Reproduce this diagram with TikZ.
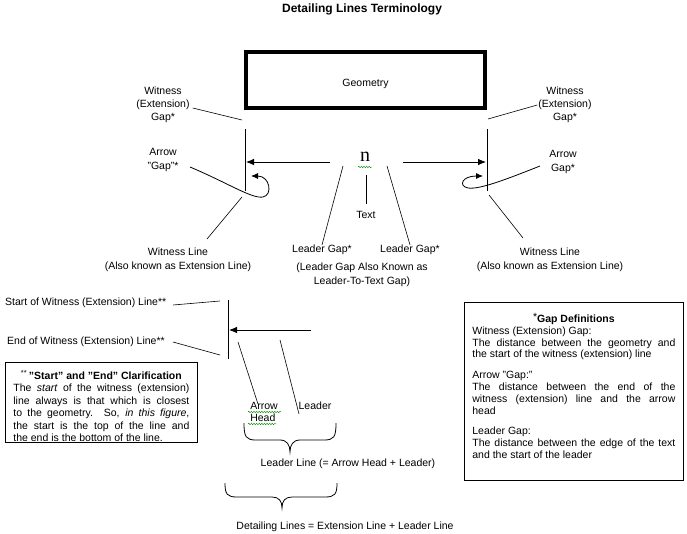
\documentclass[tikz,border=0pt]{standalone}
\usepackage{fontspec}
\setmainfont{Liberation Sans}
\newfontfamily\serifn{Liberation Serif}
\usetikzlibrary{positioning, arrows.meta, decorations.pathmorphing}
\definecolor{spellgreen}{RGB}{0, 140, 0}
\setlength{\parindent}{0pt}

\begin{document}
\begin{tikzpicture}[x=1pt, y=-1pt,
    lbl/.style={align=center, font=\fontsize{10.5}{14}\selectfont, inner sep=0pt},
    ptr/.style={line width=0.6pt},
    wline/.style={line width=0.9pt},
    dim/.style={-{Latex[length=8pt, width=6.5pt]}, line width=0.8pt},
    loopy/.style={-{Latex[length=7pt, width=6pt]}, line width=0.8pt},
    squig/.style={spellgreen, line width=0.4pt, decorate,
      decoration={snake, amplitude=0.8pt, segment length=2.6pt}},
    notebox/.style={draw, line width=0.8pt, align=justify, inner xsep=8pt,
      inner ysep=5pt, font=\fontsize{10.5}{12.2}\selectfont}]
    \useasboundingbox (0,0) rectangle (687,533);

    \node[font=\fontsize{12}{12}\selectfont\bfseries] (title) at (362,9)
         {Detailing Lines Terminology};

    % geometry and witness lines
    \node[draw, line width=4pt, minimum width=239pt, minimum height=56pt,
          font=\fontsize{10.5}{12}\selectfont, text height=12pt, text depth=0pt]
          (geom) at (365.5,80) {Geometry};

    \coordinate (wlLtop) at (245,129);
    \coordinate (wlLbot) at (245,191);
    \coordinate (wlRtop) at (487,129);
    \coordinate (wlRbot) at (487,191);
    \draw[wline] (wlLtop) -- (wlLbot);
    \draw[wline] (wlRtop) -- (wlRbot);

    % dimension text and arrows
    \node[inner sep=0pt, font=\fontsize{20}{20}\serifn] (dimtext) at (365,157) {n};
    \draw[squig] (358,167) -- (372,167);
    \coordinate (arrLs) at (330,162);
    \coordinate (arrLe) at (246,162);
    \coordinate (arrRs) at (403,162);
    \coordinate (arrRe) at (486,162);
    \draw[dim] (arrLs) -- (arrLe);
    \draw[dim] (arrRs) -- (arrRe);

    % labels round the geometry
    \node[lbl, font=\fontsize{10.5}{13}\selectfont] (wgapL) at (163,105)
         {Witness\\(Extension)\\Gap*};
    \node[lbl, font=\fontsize{10.5}{13}\selectfont] (wgapR) at (565,105)
         {Witness\\(Extension)\\Gap*};
    \node[lbl] (agapL) at (163,160) {Arrow\\"Gap"*};
    \node[lbl] (agapR) at (563,162) {Arrow\\Gap*};
    \node[lbl] (wlineL) at (178,260) {Witness Line\\(Also known as Extension Line)};
    \node[lbl] (wlineR) at (550,260) {Witness Line\\(Also known as Extension Line)};
    \node[lbl] (lgapL) at (322,250) {Leader Gap*};
    \node[lbl] (lgapR) at (410,250) {Leader Gap*};
    \node[lbl] (lgapnote) at (362,275) {(Leader Gap Also Known as\\Leader-To-Text Gap)};
    \node[lbl] (txt) at (366,215) {Text};

    \coordinate (wgL) at (242,120);
    \coordinate (wgR) at (488,119);
    \coordinate (wlL) at (242,197);
    \coordinate (wlR) at (489,195);
    \coordinate (lgL) at (343,166);
    \coordinate (lgR) at (387,166);
    \coordinate (txtp) at (366,175);
    \coordinate (agL) at (190,167);
    \coordinate (agR) at (540,166);

    \draw[ptr] ([xshift=3pt, yshift=-3pt]wgapL.east) -- (wgL);
    \draw[ptr] ([xshift=-1pt]wgapR.west) -- (wgR);
    \draw[ptr] (207,239) -- (wlL);
    \draw[ptr] (523,238) -- (wlR);
    \draw[ptr] (lgapL.north) -- (lgL);
    \draw[ptr] (lgapR.north) -- (lgR);
    \draw[ptr] (366,204) -- (txtp);

    \draw[loopy] (agL) .. controls (228,183) and (252,199) .. (263,197)
         .. controls (273,195) and (270,176) .. (251,176);
    \draw[loopy] (agR) .. controls (512,177) and (480,190) .. (468,188)
         .. controls (458,186) and (462,176) .. (483,176);

    % start and end of the witness line
    \node[lbl, anchor=west] (startlbl) at (5,303) {Start of Witness (Extension) Line**};
    \node[lbl, anchor=west] (endlbl) at (7,342) {End of Witness (Extension) Line**};
    \coordinate (swTop) at (228,300);
    \coordinate (swBot) at (228,359);
    \draw[wline] (swTop) -- (swBot);
    \draw[ptr] (173,305) -- (220,301);
    \draw[ptr] (173,342) -- (220,355);
    \coordinate (ldS) at (311,330);
    \coordinate (ldE) at (229,330);
    \draw[dim] (ldS) -- (ldE);

    \node[lbl, align=left, font=\fontsize{10.5}{12}\selectfont] (ahead) at (264,412)
         {Arrow\\Head};
    \draw[squig] (248,412) -- (281,412);
    \draw[squig] (248,424) -- (276,424);
    \node[lbl] (leader) at (315,406) {Leader};
    \coordinate (ahp) at (238,342);
    \coordinate (ldp) at (280,340);
    \draw[ptr] (ahp) -- ([xshift=-6pt, yshift=-2pt]ahead.north);
    \draw[ptr] (ldp) -- ([xshift=-16pt, yshift=-12pt]leader.north);

    % braces
    \draw[line width=0.8pt] (244,423) .. controls (244,437) and (246,440) .. (256,440)
         -- (280,440) .. controls (287,440) and (290,445) .. (290,452)
         .. controls (290,445) and (293,440) .. (300,440)
         -- (324,440) .. controls (334,440) and (336,437) .. (336,423);
    \node[lbl] (leaderline) at (348,464) {Leader Line (= Arrow Head + Leader)};

    \draw[line width=0.8pt] (225,483) .. controls (225,494) and (227,497) .. (237,497)
         -- (272,497) .. controls (279,497) and (282,501) .. (282,508)
         .. controls (282,501) and (285,497) .. (292,497)
         -- (325,497) .. controls (335,497) and (337,494) .. (337,483);
    \node[lbl] (detailing) at (345,527) {Detailing Lines = Extension Line + Leader Line};

    % note boxes
    \node[notebox, anchor=north west, text width=176pt, inner ysep=4pt,
          text height=13pt, text depth=59pt, font=\fontsize{10.5}{12.4}\selectfont]
          (clarify) at (5,362)
         {{\centering{\normalfont\textsuperscript{**}}\,\textbf{"Start" and "End" Clarification}\par}
          The \textit{start} of the witness (extension)\linebreak
          line always is that which is closest\linebreak
          to the geometry. So, \textit{in this figure},\linebreak
          the start is the top of the line and\linebreak
          the end is the bottom of the line.};

    \node[notebox, anchor=north west, text width=203pt, inner ysep=6pt,
          text height=14pt, text depth=152pt, font=\fontsize{10.5}{11.8}\selectfont]
          (gapdefs) at (464,302)
         {{\centering\smash{\raisebox{2pt}{*}}\textbf{Gap Definitions}\par}
          Witness (Extension) Gap:\par
          The distance between the geometry and\linebreak
          the start of the witness (extension) line\par
          \vspace{9pt}
          Arrow "Gap:"\par
          The distance between the end of the\linebreak
          witness (extension) line and the arrow\linebreak
          head\par
          \vspace{9pt}
          Leader Gap:\par
          The distance between the edge of the text\linebreak
          and the start of the leader};
\end{tikzpicture}
\end{document}
